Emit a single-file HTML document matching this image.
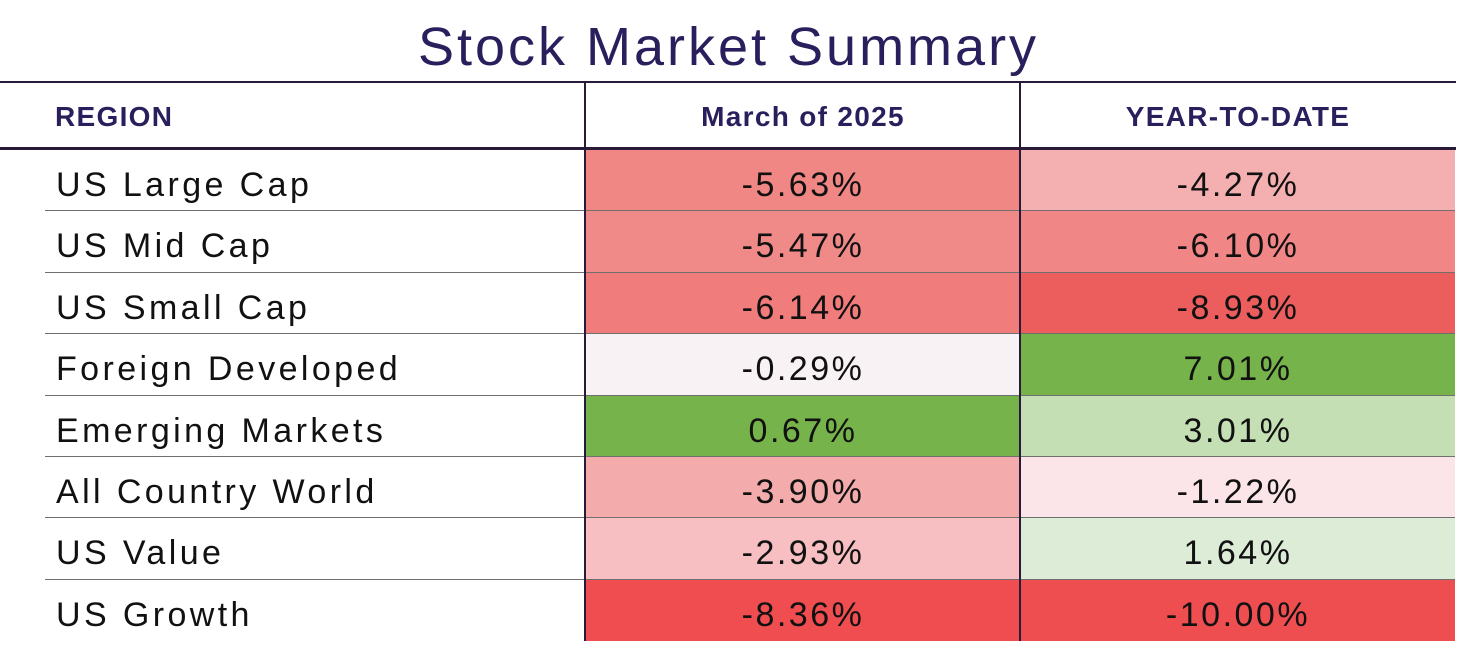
<!DOCTYPE html>
<html><head><meta charset="utf-8"><style>
body{margin:0;width:1457px;height:641px;background:#fff;position:relative;overflow:hidden;font-family:"Liberation Sans",sans-serif;}
.t{position:absolute;left:0;width:1457px;top:14px;text-align:center;font-size:54px;color:#2a1f5c;line-height:66px;letter-spacing:3px}
.abs{position:absolute}
.h{position:absolute;top:82px;height:66px;line-height:70px;font-weight:bold;font-size:28px;color:#2a1f5c;letter-spacing:1.3px}
.cell{position:absolute;height:62px;line-height:70px;text-align:center;font-size:34px;color:#111;letter-spacing:2.5px}
.lab{position:absolute;left:56px;height:62px;line-height:70px;font-size:34px;color:#111;letter-spacing:3.4px}
</style></head><body>
<div class="t">Stock Market Summary</div>
<div class="abs" style="left:0;top:81px;width:1456px;height:2px;background:#2a1a3a"></div>
<div class="h" style="left:55px">REGION</div>
<div class="h" style="left:586px;width:434px;text-align:center">March of 2025</div>
<div class="h" style="left:1021px;width:434px;text-align:center">YEAR-TO-DATE</div>
<div id="rows"></div>
<script>
var d=[["US Large Cap","-5.63%","#f08784","-4.27%","#f4b0b0"],["US Mid Cap","-5.47%","#f08a88","-6.10%","#f08685"],["US Small Cap","-6.14%","#f07c7b","-8.93%","#ec5e5e"],["Foreign Developed","-0.29%","#f9f2f5","7.01%","#77b34b"],["Emerging Markets","0.67%","#77b34b","3.01%","#c5dfb5"],["All Country World","-3.90%","#f4abab","-1.22%","#fbe5e8"],["US Value","-2.93%","#f7bfc2","1.64%","#dcecd6"],["US Growth","-8.36%","#ef4d4f","-10.00%","#ee4e4f"]];
var h="",y=150,step=61.4;
d.forEach(function(r,i){var top=Math.round(y+i*step),bot=Math.round(y+(i+1)*step);var ht=bot-top;
h+='<div class="lab" style="top:'+top+'px;height:'+ht+'px">'+r[0]+'</div>';
h+='<div class="cell" style="left:586px;width:434px;top:'+top+'px;height:'+ht+'px;background:'+r[2]+'">'+r[1]+'</div>';
h+='<div class="cell" style="left:1021px;width:434px;top:'+top+'px;height:'+ht+'px;background:'+r[4]+'">'+r[3]+'</div>';
if(i<7)h+='<div class="abs" style="left:45px;width:1410px;top:'+(bot-1)+'px;height:1px;background:#6f6f6f"></div>';});
document.getElementById("rows").innerHTML=h;
</script>
<div class="abs" style="left:0;top:147px;width:1456px;height:3px;background:#2a1a3a"></div>
<div class="abs" style="left:584px;top:82px;width:2px;height:559px;background:#2a1a3a"></div>
<div class="abs" style="left:1019px;top:82px;width:2px;height:559px;background:#2a1a3a"></div>
</body></html>
